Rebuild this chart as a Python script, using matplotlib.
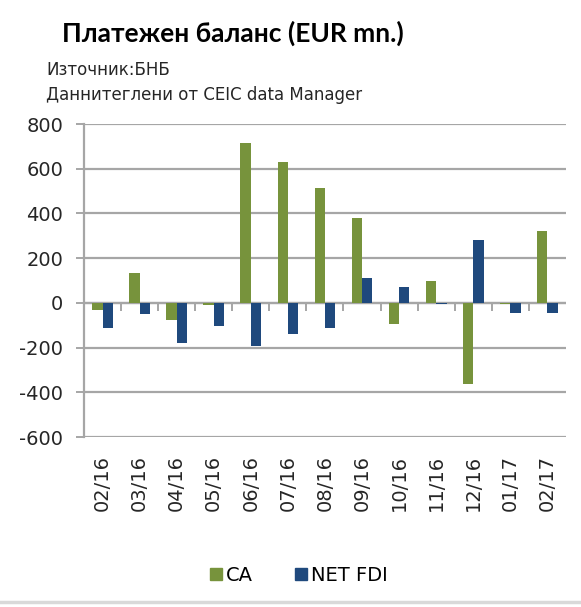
import numpy as np
import matplotlib
matplotlib.use("Agg")
import matplotlib.pyplot as plt
from matplotlib.lines import Line2D

plt.rcParams["font.family"] = ["DejaVu Sans"]
plt.rcParams["axes.unicode_minus"] = False

# ---- data ----
months = ["02/16", "03/16", "04/16", "05/16", "06/16", "07/16", "08/16",
          "09/16", "10/16", "11/16", "12/16", "01/17", "02/17"]
ca = [-30, 135, -75, -8, 714, 628, 512, 378, -93, 99, -362, -3, 323]
net_fdi = [-113, -48, -181, -102, -193, -138, -111, 110, 72, -5, 281, -47, -47]

GREEN, BLUE, GRID, INK = "#77933C", "#1F497D", "#A6A6A6", "#262626"

fig = plt.figure(figsize=(5.81, 6.07), dpi=100)
ax = fig.add_axes([0.1446, 0.280, 0.8294, 0.5157])

x = np.arange(len(months))
w = 0.28
ax.bar(x - w / 2, ca, width=w, color=GREEN, zorder=3)
ax.bar(x + w / 2, net_fdi, width=w, color=BLUE, zorder=3)

ax.set_xlim(-0.5, len(months) - 0.5)
ax.set_ylim(-600, 800)
ax.set_yticks(np.arange(-600, 801, 200))
ax.yaxis.grid(True, color=GRID, lw=1.6, zorder=0)
ax.tick_params(axis="y", length=6, width=1.4, color=GRID, labelsize=14,
               labelcolor=INK, pad=9)
ax.set_xticks(x)
ax.set_xticklabels(months, rotation=90, fontsize=14, color=INK)
ax.tick_params(axis="x", length=0, pad=13)
for s in ("top", "right", "bottom"):
    ax.spines[s].set_visible(False)
ax.spines["left"].set_color(GRID)
ax.spines["left"].set_linewidth(1.6)

# category axis crossing at zero, with tick marks between categories
ax.axhline(0, color=GRID, lw=1.6, zorder=2)
zx = ax.secondary_xaxis(0, transform=ax.transData)
zx.set_xticks(np.arange(0.5, len(months) - 0.5, 1.0))
zx.set_xticklabels([])
zx.tick_params(length=6, width=1.4, color=GRID)
zx.spines["bottom"].set_visible(False)

fig.text(0.107, 0.9456, "Платежен баланс (EUR mn.)", fontsize=19,
         fontweight="bold", color="black", va="center", family="Lato")
fig.text(0.079, 0.8847, "Източник:БНБ", fontsize=12, color=INK, va="center")
fig.text(0.079, 0.8435, "Даннитеглени от CEIC data Manager", fontsize=12,
         color=INK, va="center")

handles = [Line2D([], [], ls="", marker="s", ms=9, color=GREEN),
           Line2D([], [], ls="", marker="s", ms=9, color=BLUE)]
fig.legend(handles, ["CA", "NET FDI"], loc="center", bbox_to_anchor=(0.512, 0.0527),
           ncol=2, frameon=False, fontsize=14, handletextpad=0.05,
           columnspacing=2.0, handlelength=0.9, borderpad=0)

fig.add_artist(Line2D([0.0, 1.0], [0.0082, 0.0082], color="#D9D9D9", lw=2.5,
                      transform=fig.transFigure))

fig.savefig("out.png", dpi=100)
